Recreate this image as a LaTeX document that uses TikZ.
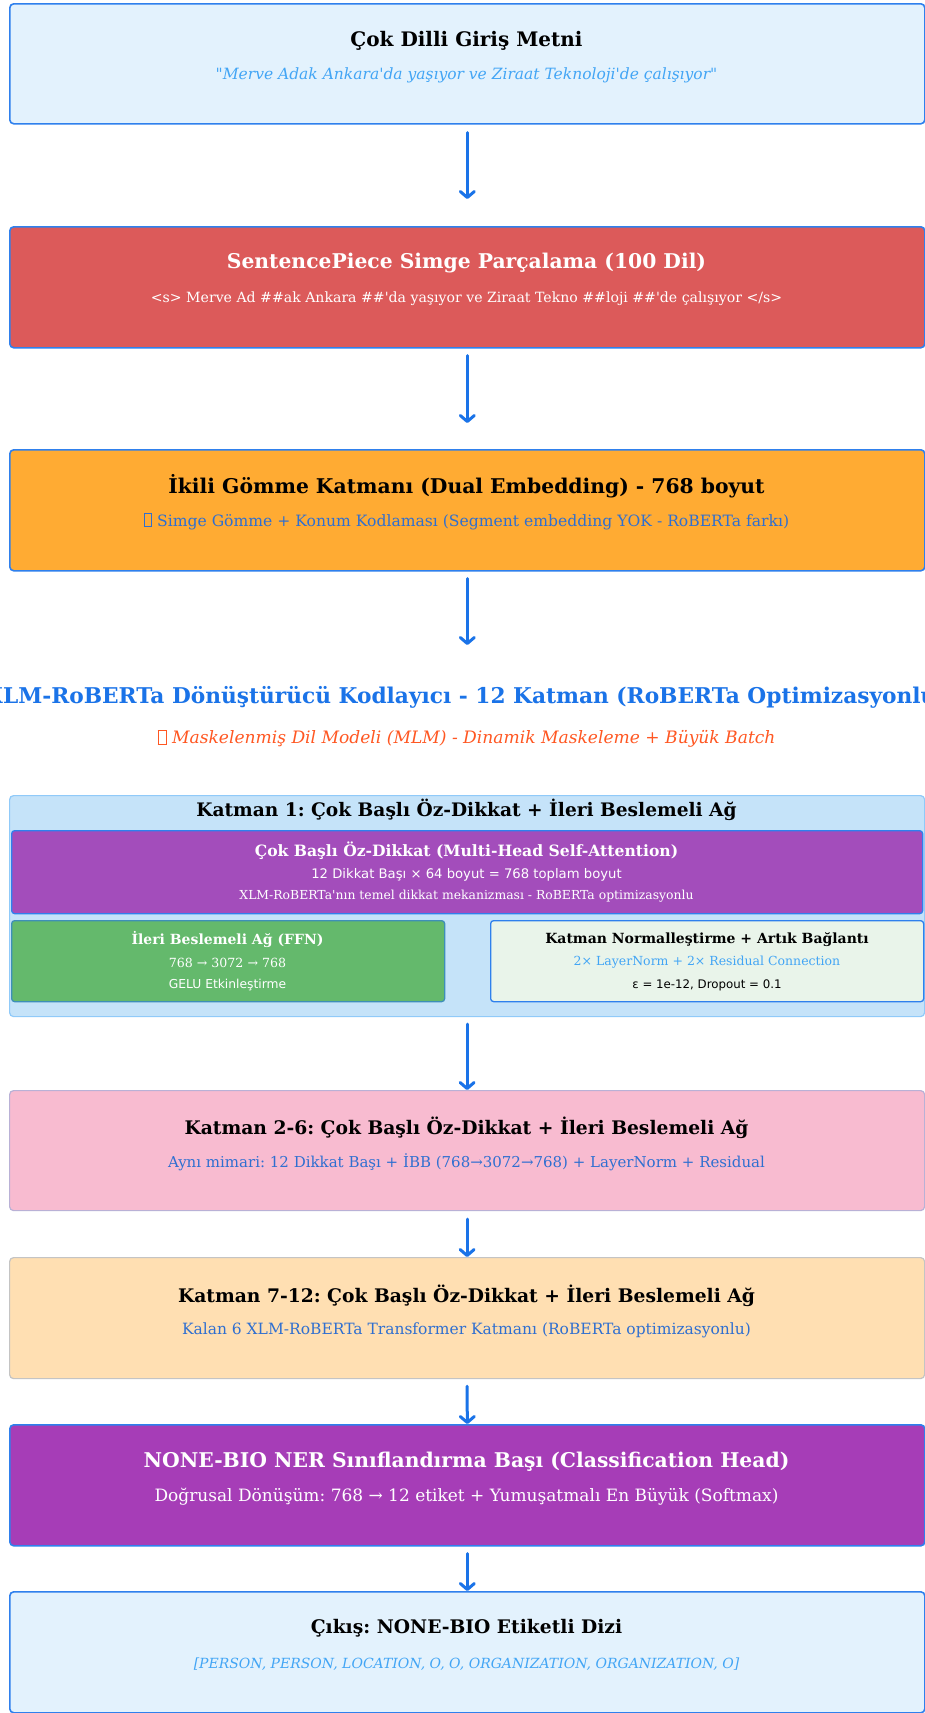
\documentclass[tikz,border=0pt]{standalone}
\usepackage{fontspec}
\setmainfont{DejaVu Serif}[Ligatures=TeXOff]
\newfontfamily\dvsans{DejaVu Sans}[Ligatures=TeXOff]
\usetikzlibrary{arrows.meta}
\frenchspacing

\definecolor{flowblue}{HTML}{1A73E8}
\definecolor{edgeblue}{HTML}{2F80ED}
\definecolor{inputfill}{HTML}{E3F2FD}
\definecolor{lightblue}{HTML}{42A5F5}
\definecolor{midblue}{HTML}{2F6FD0}
\definecolor{tokfill}{HTML}{DC5A5A}
\definecolor{embfill}{HTML}{FFAB33}
\definecolor{mlmorange}{HTML}{FF5722}
\definecolor{layerfill}{HTML}{C5E3F9}
\definecolor{layeredge}{HTML}{90CAF9}
\definecolor{attnfill}{HTML}{A34DBB}
\definecolor{ffnfill}{HTML}{64B96C}
\definecolor{ffnedge}{HTML}{3E8FB8}
\definecolor{normfill}{HTML}{E9F4EA}
\definecolor{pinkfill}{HTML}{F8BBD0}
\definecolor{pinkedge}{HTML}{B9B1D6}
\definecolor{peachfill}{HTML}{FFDFB2}
\definecolor{peachedge}{HTML}{C4C4C4}
\definecolor{headfill}{HTML}{A63DB7}

% small outlined box standing for a glyph the font cannot show
\newcommand\tofubox[1]{{\color{#1}\setlength\fboxsep{0pt}\setlength\fboxrule{0.7pt}\fbox{\rule{0pt}{0.78em}\hspace{0.45em}}}}

\tikzset{
  panel/.style={draw=edgeblue, line width=1.6pt, rounded corners=4pt, inner sep=0pt, anchor=north west},
  txt/.style={inner sep=0pt},
  flow/.style={-{Straight Barb[length=6pt,width=14pt,round]}, line width=3pt, draw=flowblue, line cap=round}
}
\newcommand\fs[1]{\fontsize{#1}{#1}\selectfont}

\begin{document}
\begin{tikzpicture}[x=1pt,y=-1pt]
\clip (0,0) rectangle (925,1713);
\fill[white] (0,0) rectangle (925,1713);

% input text
\node[panel, fill=inputfill, minimum width=915pt, minimum height=120pt] (input) at (9,3) {};
\node[txt, font=\bfseries\fs{20}] (inputT) at (466.5,40.5) {Çok Dilli Giriş Metni};
\node[txt, text=lightblue, font=\itshape\fs{15.5}] (inputS) at (466.5,75.5) {"Merve Adak Ankara'da yaşıyor ve Ziraat Teknoloji'de çalışıyor"};

% tokenization
\node[panel, fill=tokfill, minimum width=915pt, minimum height=121pt] (tok) at (9,226) {};
\node[txt, text=white, font=\bfseries\fs{20.3}] (tokT) at (466.5,263.5) {SentencePiece Simge Parçalama (100 Dil)};
\node[txt, text=white, font=\fs{14.1}] (tokS) at (466.5,298.5) {<s> Merve Ad \#\#ak Ankara \#\#'da yaşıyor ve Ziraat Tekno \#\#loji \#\#'de çalışıyor </s>};

% embedding
\node[panel, fill=embfill, minimum width=915pt, minimum height=121pt] (emb) at (9,449) {};
\node[txt, font=\bfseries\fs{20.3}] (embT) at (466.5,486.5) {İkili Gömme Katmanı (Dual Embedding) - 768 boyut};
\node[txt, text=midblue, font=\fs{15.6}] (embS) at (466.5,521.5) {\tofubox{midblue} Simge Gömme + Konum Kodlaması (Segment embedding YOK - RoBERTa farkı)};

% encoder heading
\node[txt, text=flowblue, font=\bfseries\fs{21.7}] (encT) at (466.5,697) {XLM-RoBERTa Dönüştürücü Kodlayıcı - 12 Katman (RoBERTa Optimizasyonlu)};
\node[txt, text=mlmorange, font=\itshape\fs{17.1}] (encS) at (466.5,738.5) {\tofubox{mlmorange} Maskelenmiş Dil Modeli (MLM) - Dinamik Maskeleme + Büyük Batch};
\coordinate (encTop) at (emb.south |- 0,645);

% layer 1
\node[panel, draw=layeredge, line width=1.2pt, fill=layerfill, minimum width=915pt, minimum height=221pt] (layer) at (9,795) {};
\node[txt, font=\bfseries\fs{18.6}] (layerT) at (466.5,810) {Katman 1: Çok Başlı Öz-Dikkat + İleri Beslemeli Ağ};

\node[panel, fill=attnfill, line width=1.3pt, rounded corners=3pt, minimum width=911pt, minimum height=83pt] (attn) at (11,830) {};
\node[txt, text=white, font=\bfseries\fs{15.6}] (attnT) at (466.5,850.5) {Çok Başlı Öz-Dikkat (Multi-Head Self-Attention)};
\node[txt, text=white, font=\dvsans\fs{13.2}] (attnS) at (466.5,874.5) {12 Dikkat Başı × 64 boyut = 768 toplam boyut};
\node[txt, text=white, font=\fs{12.4}] (attnN) at (466.5,896.5) {XLM-RoBERTa'nın temel dikkat mekanizması - RoBERTa optimizasyonlu};

\node[panel, draw=ffnedge, fill=ffnfill, line width=1.3pt, rounded corners=3pt, minimum width=433pt, minimum height=81pt] (ffn) at (11,920) {};
\node[txt, text=white, font=\bfseries\fs{14}] (ffnT) at (227.5,939.5) {İleri Beslemeli Ağ (FFN)};
\node[txt, text=white, font=\fs{12.6}] (ffnS) at (227.5,962.5) {768 → 3072 → 768};
\node[txt, text=white, font=\dvsans\fs{12.3}] (ffnN) at (227.5,985.5) {GELU Etkinleştirme};

\node[panel, fill=normfill, line width=1.3pt, rounded corners=3pt, minimum width=433pt, minimum height=81pt] (norm) at (490,920) {};
\node[txt, font=\bfseries\fs{14}] (normT) at (707,939.5) {Katman Normalleştirme + Artık Bağlantı};
\node[txt, text=lightblue, font=\fs{12.5}] (normS) at (707,962.5) {2× LayerNorm + 2× Residual Connection};
\node[txt, font=\dvsans\fs{11.8}] (normN) at (707,985.5) {ε = 1e-12, Dropout = 0.1};

% layers 2-6
\node[panel, draw=pinkedge, line width=1.2pt, fill=pinkfill, minimum width=915pt, minimum height=120pt] (mid) at (9,1090) {};
\node[txt, font=\bfseries\fs{18.7}] (midT) at (466.5,1127.5) {Katman 2-6: Çok Başlı Öz-Dikkat + İleri Beslemeli Ağ};
\node[txt, text=midblue, font=\fs{15}] (midS) at (466.5,1162.5) {Aynı mimari: 12 Dikkat Başı + İBB (768→3072→768) + LayerNorm + Residual};

% layers 7-12
\node[panel, draw=peachedge, line width=1.2pt, fill=peachfill, minimum width=915pt, minimum height=121pt] (top) at (9,1257) {};
\node[txt, font=\bfseries\fs{18.7}] (topT) at (466.5,1295.5) {Katman 7-12: Çok Başlı Öz-Dikkat + İleri Beslemeli Ağ};
\node[txt, text=midblue, font=\fs{15.5}] (topS) at (466.5,1330.5) {Kalan 6 XLM-RoBERTa Transformer Katmanı (RoBERTa optimizasyonlu)};

% classification head
\node[panel, fill=headfill, minimum width=915pt, minimum height=121pt] (head) at (9,1424) {};
\node[txt, text=white, font=\bfseries\fs{20.3}] (headT) at (466.5,1461.5) {NONE-BIO NER Sınıflandırma Başı (Classification Head)};
\node[txt, text=white, font=\fs{17}] (headS) at (466.5,1496.5) {Doğrusal Dönüşüm: 768 → 12 etiket + Yumuşatmalı En Büyük (Softmax)};

% output
\node[panel, fill=inputfill, minimum width=915pt, minimum height=121pt] (out) at (9,1591) {};
\node[txt, font=\bfseries\fs{18.7}] (outT) at (466.5,1628.5) {Çıkış: NONE-BIO Etiketli Dizi};
\node[txt, text=lightblue, font=\itshape\fs{14}] (outS) at (466.5,1664.5) {[PERSON, PERSON, LOCATION, O, O, ORGANIZATION, ORGANIZATION, O]};

% connectors
\draw[flow, shorten <=8pt, shorten >=27pt] (input.south) -- (tok.north);
\draw[flow, shorten <=7pt, shorten >=26pt] (tok.south) -- (emb.north);
\draw[flow, shorten <=7pt] (emb.south) -- (encTop);
\draw[flow, shorten <=7pt] (layer.south) -- (mid.north);
\draw[flow, shorten <=8pt] (mid.south) -- (top.north);
\draw[flow, shorten <=7pt] (top.south) -- (head.north);
\draw[flow, shorten <=7pt] (head.south) -- (out.north);
\end{tikzpicture}
\end{document}
